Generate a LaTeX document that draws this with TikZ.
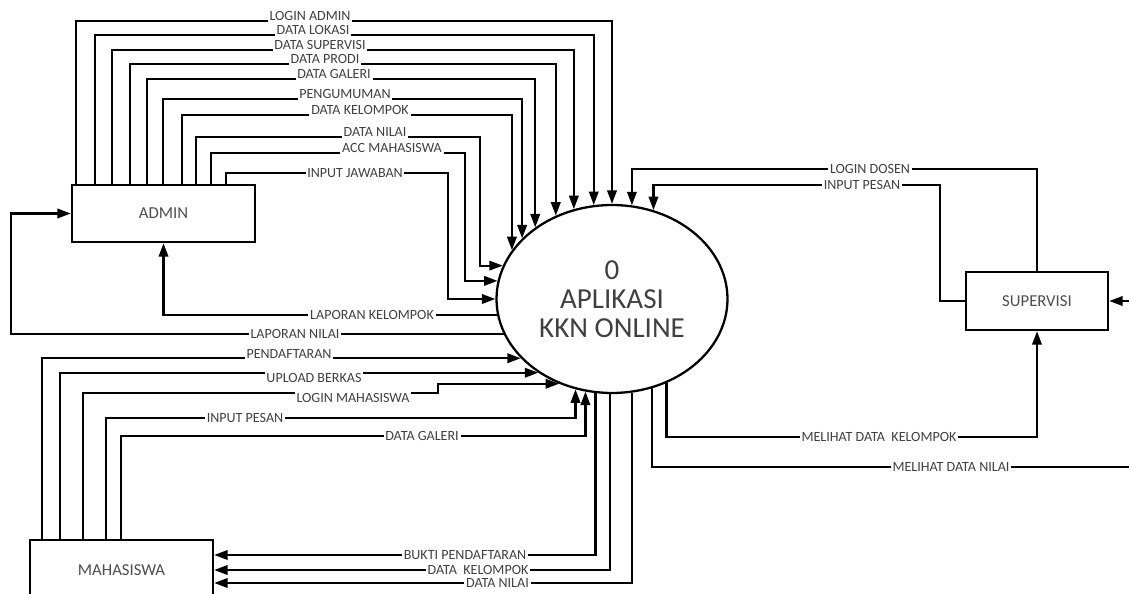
\documentclass[tikz,border=0pt]{standalone}
\usepackage{fontspec}
\setmainfont{Carlito}
\usetikzlibrary{shapes.geometric, arrows.meta}

\tikzset{
  entity/.style={draw, rectangle, line width=1.4pt, minimum width=3.66cm, minimum height=1.14cm,
    font=\fontsize{9.5}{11}\selectfont, text=black!70},
  process/.style={draw, ellipse, line width=1.3pt, inner sep=0pt, minimum width=4.62cm,
    minimum height=3.76cm, align=center, font=\fontsize{16.5}{16.5}\selectfont, text=black!75},
  flow/.style={line width=1.25pt, -{Triangle[length=0.27cm,width=0.19cm]}},
  link/.style={line width=1.25pt},
  lbl/.style={fill=white, inner sep=1pt, font=\fontsize{8}{9}\selectfont, text=black!75}
}

\begin{document}
\begin{tikzpicture}[x=0.02cm, y=-0.02cm]
\useasboundingbox (0,0) rectangle (1129,594);

% Process
\node[process] (proc) at (612,299) {0\\APLIKASI\\KKN ONLINE};

% External entities
\node[entity] (admin) at (163.5,213.5) {ADMIN};
\node[entity, minimum width=2.84cm, minimum height=1.16cm] (sup) at (1037,301) {SUPERVISI};
\node[entity, minimum height=1.2cm] (mhs) at (121.5,570) {MAHASISWA};

% Free ends at the right edge
\coordinate (nilaiout) at (1129,467);
\coordinate (supin) at (1129,301);

% Admin to process
\draw[flow] ([xshift=0.10cm]admin.north west) |- (310,21) node[lbl, anchor=base] (a1) {LOGIN ADMIN} -| (proc.90);
\draw[flow] ([xshift=0.48cm]admin.north west) |- (313,35) node[lbl, anchor=base] (a2) {DATA LOKASI} -| (proc.101.6);
\draw[flow] ([xshift=0.82cm]admin.north west) |- (320,50) node[lbl, anchor=base] (a3) {DATA SUPERVISI} -| (proc.113.8);
\draw[flow] ([xshift=1.18cm]admin.north west) |- (325,64) node[lbl, anchor=base] (a4) {DATA PRODI} -| (proc.124.3);
\draw[flow] ([xshift=1.52cm]admin.north west) |- (334,79) node[lbl, anchor=base] (a5) {DATA GALERI} -| (proc.137.7);
\draw[flow] ([xshift=1.84cm]admin.north west) |- (345,99) node[lbl, anchor=base] (a6) {PENGUMUMAN} -| (proc.146.1);
\draw[flow] ([xshift=2.22cm]admin.north west) |- (360,115) node[lbl, anchor=base] (a7) {DATA KELOMPOK} -| (proc.154.8);
\draw[flow] ([xshift=2.50cm]admin.north west) |- (375,137) node[lbl, anchor=base] (a8) {DATA NILAI} -- (480,137) |- (proc.163.6);
\draw[flow] ([xshift=2.80cm]admin.north west) |- (392,153) node[lbl, anchor=base] (a9) {ACC MAHASISWA} -- (465,153) |- (proc.171.5);
\draw[flow] ([xshift=3.10cm]admin.north west) |- (355,173) node[lbl] (a10) {INPUT JAWABAN} -- (448,173) |- (proc.180);

% Process to admin
\draw[flow] (proc.188) -- (proc.188 -| 372,0) node[lbl] (b1) {LAPORAN KELOMPOK} -| (admin.south);
\draw[flow] (proc.198.1) -- (proc.198.1 -| 295,0) node[lbl] (b2) {LAPORAN NILAI} -| ([xshift=-1.2cm]admin.west) -- (admin.west);

% Mahasiswa to process
\draw[flow] ([xshift=0.26cm]mhs.north west) |- (proc.213.3 -| 289,0) node[lbl, anchor=base] (m1) {PENDAFTARAN} -- (proc.213.3);
\draw[flow] ([xshift=0.62cm]mhs.north west) |- (proc.225.1 -| 314,0) node[lbl, anchor=north, yshift=0.04cm] (m2) {UPLOAD BERKAS} -- (proc.225.1);
\draw[flow] ([xshift=1.08cm]mhs.north west) |- (353,393) node[lbl, anchor=north, yshift=0.04cm] (m3) {LOGIN MAHASISWA} -- (438,393) |- (proc.238.3);
\draw[flow] ([xshift=1.54cm]mhs.north west) |- (245,418) node[lbl] (m4) {INPUT PESAN} -| (proc.248);
\draw[flow] ([xshift=1.84cm]mhs.north west) |- (422,436) node[lbl] (m5) {DATA GALERI} -| (proc.254.1);

% Process to mahasiswa
\draw[flow] (proc.260.2) |- node[lbl, pos=0.671] (n1) {BUKTI PENDAFTARAN} ([yshift=0.30cm]mhs.east);
\draw[flow] (proc.269.5) |- node[lbl, pos=0.667] (n2) {DATA\ \ KELOMPOK} (mhs.east);
\draw[flow] (proc.282.2) |- node[lbl, pos=0.661] (n3) {DATA NILAI} ([yshift=-0.26cm]mhs.east);

% Supervisi to process
\draw[flow] (sup.north) |- (870,169) node[lbl] (s1) {LOGIN DOSEN} -| (proc.78.4);
\draw[flow] (sup.west) -| (940,185) -- (862,185) node[lbl] (s2) {INPUT PESAN} -| (proc.65);

% Process to supervisi
\draw[flow] (proc.303.6) |- (879,437) node[lbl] (s3) {MELIHAT DATA\ \ KELOMPOK} -| (sup.south);
\draw[link] (proc.294.4) |- (951,467) node[lbl] (s4) {MELIHAT DATA NILAI} -- (nilaiout);
\draw[flow] (supin) -- (sup.east);
\end{tikzpicture}
\end{document}
